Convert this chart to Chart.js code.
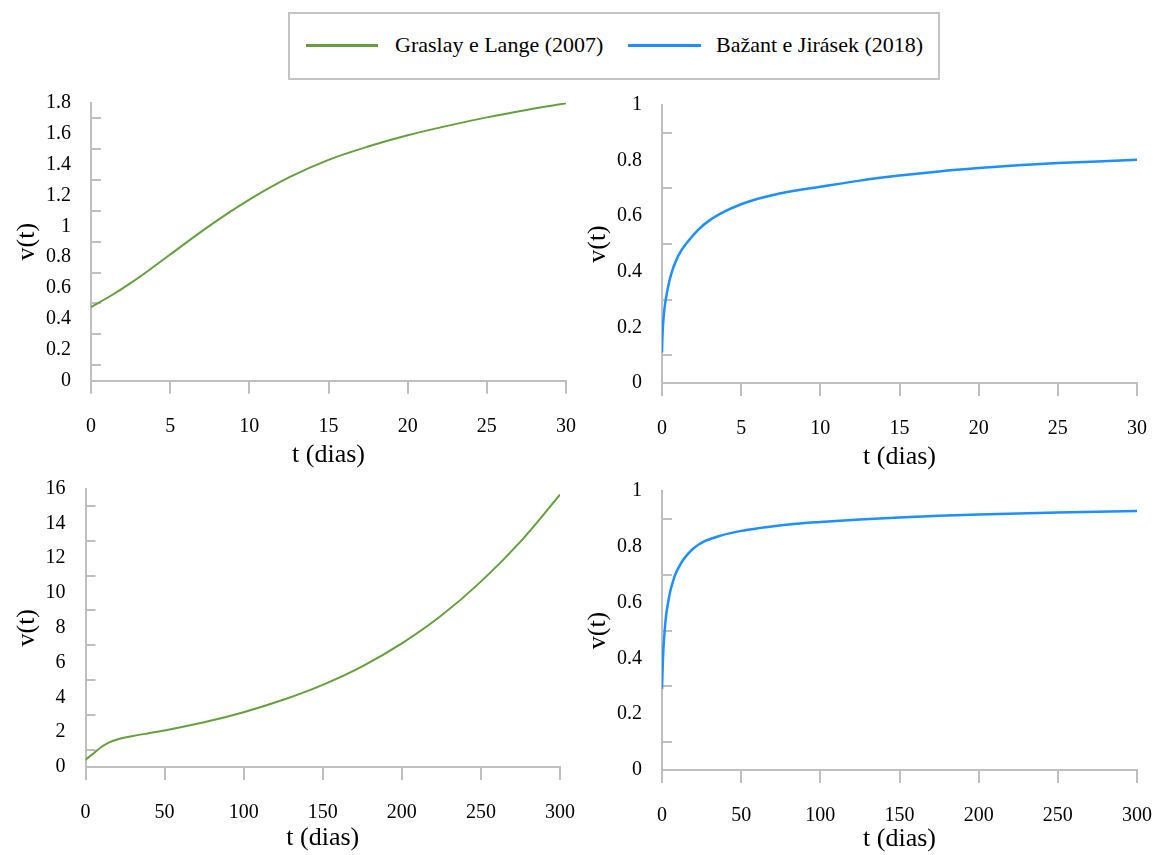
<!DOCTYPE html>
<html>
<head>
<meta charset="utf-8">
<script src="https://cdn.jsdelivr.net/npm/chart.js@4/dist/chart.umd.min.js"></script>
<style>
  html, body { margin: 0; padding: 0; background: #fff; }
  body { width: 1156px; height: 855px; position: relative; overflow: hidden;
         font-family: 'Liberation Serif', 'Times New Roman', serif; }
  canvas { position: absolute; }
  #legend { position: absolute; left: 288px; top: 12px; width: 648px; height: 64px;
            border: 2px solid #c4c4c4; box-sizing: content-box; }
  .lg-line { position: absolute; height: 2.5px; }
  .lg-text { position: absolute; font-size: 22px; line-height: 24px; color: #000; white-space: nowrap; }
</style>
</head>
<body>
<div id="legend"></div>
<div class="lg-line" style="left:306px; top:44px; width:72px; background:#64a03c;"></div>
<div class="lg-text" id="lgA" style="left:395px; top:33px;"></div>
<div class="lg-line" style="left:628px; top:44px; width:73px; background:#1e8fff;"></div>
<div class="lg-text" id="lgB" style="left:716px; top:33px;"></div>

<canvas id="c1" width="590" height="395" style="left:0px; top:80px;"></canvas>
<canvas id="c2" width="586" height="395" style="left:570px; top:80px;"></canvas>
<canvas id="c3" width="590" height="390" style="left:0px; top:465px;"></canvas>
<canvas id="c4" width="586" height="390" style="left:570px; top:465px;"></canvas>

<script>
// ---------------- DATA ----------------
const seriesNames = ['Graslay e Lange (2007)', 'Bažant e Jirásek (2018)'];
const xTitle = 't (dias)';
const yTitle = 'v(t)';

// Graslay e Lange (2007), 0–30 dias
const g30T = [0, 1.25, 2.5, 3.75, 5, 7.5, 10, 12.5, 15, 17.5, 20, 22.5, 25, 27.5, 30];
const g30V = [0.477, 0.55, 0.632, 0.722, 0.817, 1.004, 1.172, 1.316, 1.43, 1.516, 1.589, 1.65, 1.705, 1.753, 1.796];

// Bažant e Jirásek (2018), 0–30 dias
const b30T = [0, 0.03, 0.08, 0.15, 0.25, 0.4, 0.6, 0.85, 1.2, 1.65, 2.3, 3, 4, 5, 6, 8, 10, 12.5, 15, 17.5, 20, 22.5, 25, 27.5, 30];
const b30V = [0.11, 0.17, 0.22, 0.265, 0.305, 0.35, 0.395, 0.435, 0.475, 0.51, 0.552, 0.585, 0.618, 0.643, 0.662, 0.688, 0.706, 0.728, 0.746, 0.761, 0.773, 0.783, 0.791, 0.797, 0.803];

// Graslay e Lange (2007), 0–300 dias
const g300T = [0, 5, 10, 15, 20, 30, 40, 50, 75, 100, 125, 150, 175, 200, 225, 250, 275, 300];
const g300V = [0.42, 0.78, 1.15, 1.42, 1.58, 1.78, 1.94, 2.1, 2.57, 3.15, 3.86, 4.72, 5.78, 7.1, 8.7, 10.65, 12.95, 15.65];

// Bažant e Jirásek (2018), 0–300 dias
const b300T = [0, 0.6, 1.7, 2.5, 3.4, 5, 6, 8, 10, 13, 16, 20, 27, 37, 50, 60, 80, 100, 125, 150, 175, 200, 250, 300];
const b300V = [0.29, 0.40, 0.50, 0.55, 0.585, 0.635, 0.657, 0.695, 0.72, 0.75, 0.772, 0.795, 0.82, 0.84, 0.857, 0.866, 0.88, 0.889, 0.898, 0.905, 0.911, 0.916, 0.923, 0.928];

// axis ranges / tick steps
const xMax30 = 30, xStep30 = 5;
const xMax300 = 300, xStep300 = 50;
const yMaxG30 = 1.8, yStepG30 = 0.2;
const yMaxB = 1, yStepB = 0.2;
const yMaxG300 = 16, yStepG300 = 2;

// ---------------- STYLE ----------------
const GREEN = '#64a03c';
const BLUE = '#1e8fff';
const AX = '#bfbfbf';
Chart.defaults.font.family = "'Liberation Serif', 'Times New Roman', serif";
Chart.defaults.color = '#000';

document.getElementById('lgA').textContent = seriesNames[0];
document.getElementById('lgB').textContent = seriesNames[1];

const fmt = (v) => String(Number(v.toFixed(4)));

// minor tick marks between labelled y ticks, drawn inside the plot
const minorTicks = {
  id: 'minorTicks',
  beforeDatasetsDraw(chart) {
    const ys = chart.scales.y;
    const left = chart.chartArea.left;
    const t = ys.ticks;
    const ctx = chart.ctx;
    ctx.save();
    ctx.strokeStyle = AX;
    ctx.lineWidth = 2;
    ctx.beginPath();
    for (let i = 0; i < t.length - 1; i++) {
      const p = Math.round(ys.getPixelForValue((t[i].value + t[i + 1].value) / 2));
      ctx.moveTo(left, p);
      ctx.lineTo(left + 10, p);
    }
    ctx.stroke();
    ctx.restore();
  }
};

function noPad(s) { s.paddingLeft = 0; s.paddingRight = 0; s.paddingTop = 0; s.paddingBottom = 0; }

function panel(id, xs, ys, color, lw, xMax, xStep, yMax, yStep, box) {
  const data = xs.map((x, i) => ({ x: x, y: ys[i] }));
  new Chart(document.getElementById(id), {
    type: 'line',
    data: { datasets: [{ label: '', data: data, borderColor: color, borderWidth: lw,
      pointRadius: 0, fill: false, cubicInterpolationMode: 'monotone' }] },
    options: {
      responsive: false, animation: false, devicePixelRatio: 1,
      layout: { padding: { top: box.pt, right: box.pr, left: 0, bottom: 0 } },
      plugins: { legend: { display: false }, tooltip: { enabled: false } },
      scales: {
        x: {
          type: 'linear', min: 0, max: xMax,
          ticks: { stepSize: xStep, padding: 21, font: { size: 20 }, color: '#000', maxRotation: 0, autoSkip: false, callback: fmt },
          grid: { display: true, drawOnChartArea: false, drawTicks: true, tickLength: 13, color: AX, lineWidth: 2 },
          border: { display: true, color: AX, width: 2 },
          title: { display: true, text: xTitle, font: { size: 26 }, color: '#000', padding: { top: 0, bottom: box.tb } },
          afterFit: (s) => { s.height = box.xh; noPad(s); }
        },
        y: {
          type: 'linear', min: 0, max: yMax,
          ticks: { stepSize: yStep, padding: 20, font: { size: 20 }, color: '#000', autoSkip: false, callback: fmt },
          grid: { display: false, drawTicks: false },
          border: { display: true, color: AX, width: 2 },
          title: { display: true, text: yTitle, font: { size: 26 }, color: '#000', padding: { top: box.tp, bottom: 0 } },
          afterFit: (s) => { s.width = box.yw; noPad(s); }
        }
      }
    },
    plugins: [minorTicks]
  });
}

panel('c1', g30T, g30V, GREEN, 2, xMax30, xStep30, yMaxG30, yStepG30,
      { pt: 22.7, pr: 24, yw: 91, xh: 94.3, tb: 4.4, tp: 11.5 });
panel('c2', b30T, b30V, BLUE, 2.5, xMax30, xStep30, yMaxB, yStepB,
      { pt: 25, pr: 19, yw: 92, xh: 92, tb: 2.4, tp: 12.5 });
panel('c3', g300T, g300V, GREEN, 2, xMax300, xStep300, yMaxG300, yStepG300,
      { pt: 23.5, pr: 30, yw: 85.5, xh: 88, tb: 1.4, tp: 11.5 });
panel('c4', b300T, b300V, BLUE, 2.5, xMax300, xStep300, yMaxB, yStepB,
      { pt: 26, pr: 19, yw: 92, xh: 85, tb: 0, tp: 12.5 });
</script>
</body>
</html>
